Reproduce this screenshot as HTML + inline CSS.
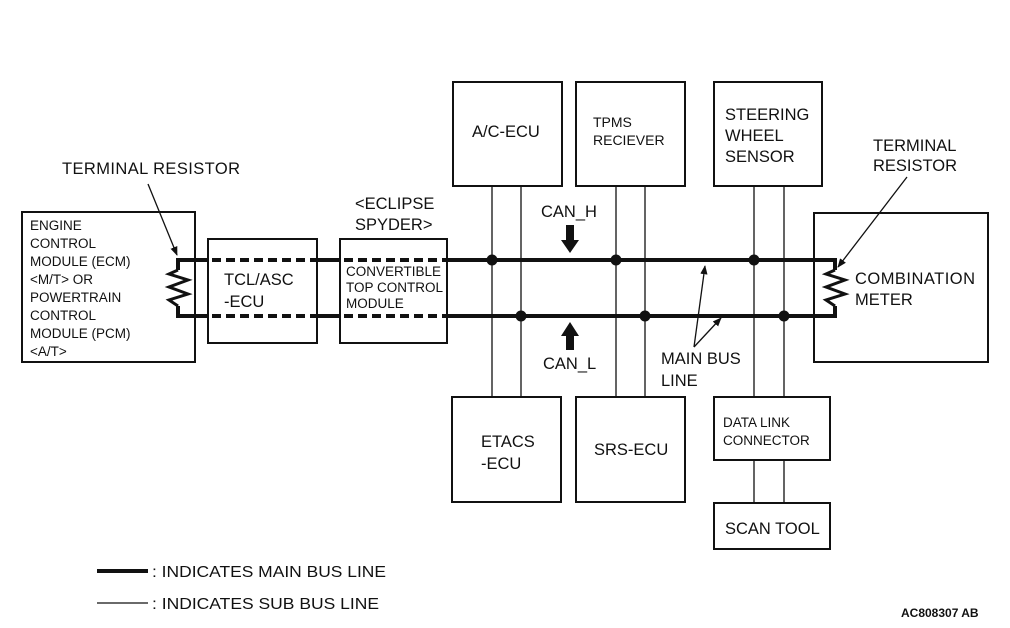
<!DOCTYPE html>
<html><head><meta charset="utf-8"><style>
html,body{margin:0;padding:0;background:#fff;}
svg{display:block;}
text{font-family:"Liberation Sans",sans-serif;fill:#111;}
</style></head><body>
<svg width="1010" height="628" viewBox="0 0 1010 628" xmlns="http://www.w3.org/2000/svg">
<defs><marker id="ah" viewBox="0 0 10 10" refX="9" refY="5" markerWidth="7" markerHeight="7" orient="auto"><path d="M0,1 L10,5 L0,9 z" fill="#111"/></marker></defs>
<g fill="none" stroke="#111" stroke-width="2">
<rect x="22" y="212" width="173" height="150"/>
<rect x="208" y="239" width="109" height="104"/>
<rect x="340" y="239" width="107" height="104"/>
<rect x="453" y="82" width="109" height="104"/>
<rect x="576" y="82" width="109" height="104"/>
<rect x="714" y="82" width="108" height="104"/>
<rect x="814" y="213" width="174" height="149"/>
<rect x="452" y="397" width="109" height="105"/>
<rect x="576" y="397" width="109" height="105"/>
<rect x="714" y="397" width="116" height="63"/>
<rect x="714" y="503" width="116" height="46"/>
</g>
<g stroke="#111" stroke-width="1.3">
<line x1="492" y1="186" x2="492" y2="397"/><line x1="521" y1="186" x2="521" y2="397"/>
<line x1="616" y1="186" x2="616" y2="397"/><line x1="645" y1="186" x2="645" y2="397"/>
<line x1="754" y1="186" x2="754" y2="397"/><line x1="784" y1="186" x2="784" y2="397"/>
<line x1="754" y1="460" x2="754" y2="503"/><line x1="784" y1="460" x2="784" y2="503"/>
</g>
<g stroke="#111" stroke-width="4" fill="none">
<path d="M178,270 L178,260 L208,260 M317,260 L340,260 M447,260 L835,260 L835,270"/>
<path d="M178,306 L178,316 L208,316 M317,316 L340,316 M447,316 L835,316 L835,306"/>
<path d="M178,270 L169,274 L188,280 L169,287 L188,294 L169,300 L178,306" stroke-width="3"/>
<path d="M835,270 L826,274 L845,280 L826,287 L845,294 L826,300 L835,306" stroke-width="3"/>
</g>
<g stroke="#111" stroke-width="4" stroke-dasharray="9,5">
<line x1="212" y1="260" x2="317" y2="260"/><line x1="212" y1="316" x2="317" y2="316"/>
<line x1="344" y1="260" x2="447" y2="260"/><line x1="344" y1="316" x2="447" y2="316"/>
</g>
<g fill="#111">
<circle cx="492" cy="260" r="5.5"/><circle cx="616" cy="260" r="5.5"/><circle cx="754" cy="260" r="5.5"/>
<circle cx="521" cy="316" r="5.5"/><circle cx="645" cy="316" r="5.5"/><circle cx="784" cy="316" r="5.5"/>
<path d="M566,225 L574,225 L574,240 L579,240 L570,253 L561,240 L566,240 z"/>
<path d="M566,350 L574,350 L574,336 L579,336 L570,322 L561,336 L566,336 z"/>
</g>
<g stroke="#111" stroke-width="1.3" marker-end="url(#ah)">
<line x1="148" y1="184" x2="177" y2="255"/>
<line x1="907" y1="177" x2="838" y2="267"/>
<line x1="694" y1="347" x2="705" y2="266"/>
<line x1="694" y1="347" x2="721" y2="318"/>
</g>
<line x1="97" y1="571" x2="148" y2="571" stroke="#111" stroke-width="4"/>
<line x1="97" y1="603" x2="148" y2="603" stroke="#111" stroke-width="1.3"/>
<g font-size="16.5">
<text x="62" y="174" textLength="178">TERMINAL RESISTOR</text>
<text x="355" y="209">&lt;ECLIPSE</text><text x="355" y="230">SPYDER&gt;</text>
<text x="224" y="285">TCL/ASC</text><text x="224" y="307">-ECU</text>
<text x="472" y="137">A/C-ECU</text>
<text x="725" y="120">STEERING</text><text x="725" y="141">WHEEL</text><text x="725" y="162">SENSOR</text>
<text x="873" y="151">TERMINAL</text><text x="873" y="171">RESISTOR</text>
<text x="855" y="284" textLength="120">COMBINATION</text><text x="855" y="305">METER</text>
<text x="541" y="217">CAN_H</text><text x="543" y="369">CAN_L</text>
<text x="661" y="364">MAIN BUS</text><text x="661" y="386">LINE</text>
<text x="481" y="447">ETACS</text><text x="481" y="469">-ECU</text>
<text x="594" y="455">SRS-ECU</text>
<text x="725" y="534">SCAN TOOL</text>
</g>
<g font-size="13.5">
<text x="30" y="230">ENGINE</text><text x="30" y="248">CONTROL</text><text x="30" y="266">MODULE (ECM)</text>
<text x="30" y="284">&lt;M/T&gt; OR</text><text x="30" y="302">POWERTRAIN</text><text x="30" y="320">CONTROL</text>
<text x="30" y="338">MODULE (PCM)</text><text x="30" y="356">&lt;A/T&gt;</text>
<text x="346" y="276">CONVERTIBLE</text><text x="346" y="292">TOP CONTROL</text><text x="346" y="308">MODULE</text>
<text x="593" y="127" font-size="14">TPMS</text><text x="593" y="145" font-size="14">RECIEVER</text>
<text x="723" y="427">DATA LINK</text><text x="723" y="445">CONNECTOR</text>
</g>
<g font-size="16">
<text x="152" y="577" textLength="234" lengthAdjust="spacingAndGlyphs">: INDICATES  MAIN BUS LINE</text>
<text x="152" y="609" textLength="227" lengthAdjust="spacingAndGlyphs">: INDICATES  SUB BUS LINE</text>
</g>
<text x="901" y="617" font-size="12" font-weight="bold">AC808307 AB</text>
</svg>
</body></html>
